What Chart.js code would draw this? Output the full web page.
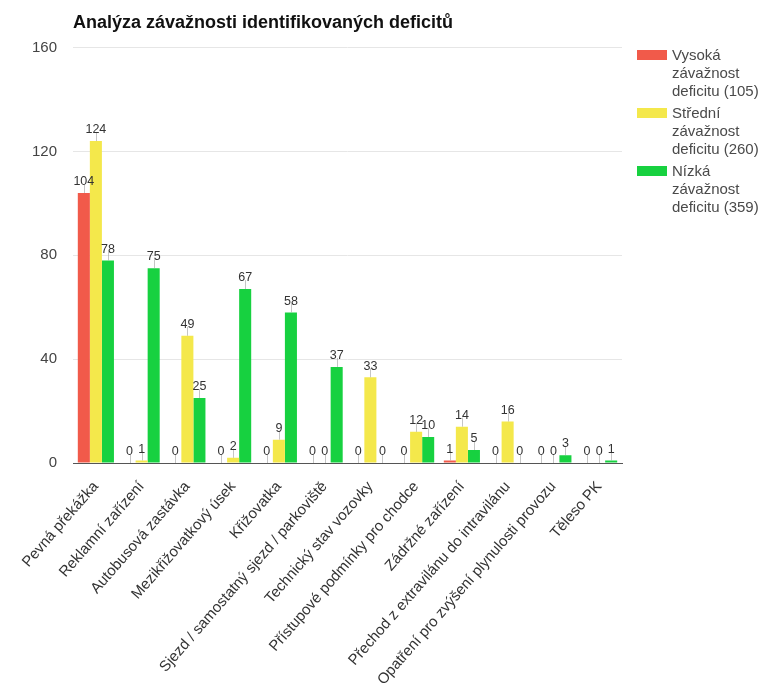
<!DOCTYPE html>
<html lang="cs">
<head>
  <meta charset="UTF-8">
  <script src="https://cdn.jsdelivr.net/npm/chart.js@4.4.0/dist/chart.umd.min.js"></script>
  <style>
    body { margin: 0; background: #fff; font-family: Arial, "Liberation Sans", sans-serif; }
    .wrap { position: relative; width: 762px; height: 684px; }
    #legend { position: absolute; left: 637px; top: 46px; font-size: 15px; color: #4a4a4a; line-height: 18px; }
    .item { display: flex; margin-bottom: 4px; }
    .box { width: 30px; height: 10px; margin: 4px 5px 0 0; flex: none; }
  </style>
</head>
<body>
  <div class="wrap">
    <canvas id="c" width="762" height="684"></canvas>
    <div id="legend"></div>
  </div>
  <script>
    // kategorie deficitů
    const categories = [
      'Pevná překážka',
      'Reklamní zařízení',
      'Autobusová zastávka',
      'Mezikřižovatkový úsek',
      'Křižovatka',
      'Sjezd / samostatný sjezd / parkoviště',
      'Technický stav vozovky',
      'Přístupové podmínky pro chodce',
      'Zádržné zařízení',
      'Přechod z extravilánu do intravilánu',
      'Opatření pro zvýšení plynulosti provozu',
      'Těleso PK'
    ];
    const vysoka  = [104, 0, 0, 0, 0, 0, 0, 0, 1, 0, 0, 0];
    const stredni = [124, 1, 49, 2, 9, 0, 33, 12, 14, 16, 0, 0];
    const nizka   = [78, 75, 25, 67, 58, 37, 0, 10, 5, 0, 3, 1];
    const yTicks  = [0, 40, 80, 120, 160];

    const FONT = 'Arial, "Liberation Sans", sans-serif';
    const sum = a => a.reduce((s, v) => s + v, 0);
    const series = [
      { name: ['Vysoká', 'závažnost', 'deficitu (' + sum(vysoka) + ')'], data: vysoka, color: '#f15a4a' },
      { name: ['Střední', 'závažnost', 'deficitu (' + sum(stredni) + ')'], data: stredni, color: '#f4e84b' },
      { name: ['Nízká', 'závažnost', 'deficitu (' + sum(nizka) + ')'], data: nizka, color: '#17d140' }
    ];

    // popisky hodnot se stopkou nad sloupci
    const barLabels = {
      id: 'barLabels',
      afterDatasetsDraw(chart) {
        const ctx = chart.ctx;
        ctx.save();
        ctx.font = '12.5px ' + FONT;
        ctx.textAlign = 'center';
        ctx.textBaseline = 'bottom';
        chart.data.datasets.forEach((ds, i) => {
          chart.getDatasetMeta(i).data.forEach((bar, j) => {
            const top = Math.min(bar.y, bar.base);
            ctx.strokeStyle = 'rgba(150,150,150,0.55)';
            ctx.lineWidth = 1;
            ctx.beginPath();
            ctx.moveTo(Math.round(bar.x) + 0.5, top);
            ctx.lineTo(Math.round(bar.x) + 0.5, top - 9);
            ctx.stroke();
            ctx.fillStyle = '#333';
            ctx.fillText(ds.data[j], bar.x, top - 5);
          });
        });
        ctx.restore();
      }
    };

    new Chart(document.getElementById('c'), {
      type: 'bar',
      data: {
        labels: categories,
        datasets: series.map(s => ({
          label: s.name.join(' '),
          data: s.data,
          backgroundColor: s.color,
          categoryPercentage: 0.79,
          barPercentage: 1.0
        }))
      },
      options: {
        responsive: false,
        animation: false,
        layout: { padding: { left: 0, right: 140, top: 0, bottom: 0 } },
        plugins: {
          legend: { display: false },
          tooltip: { enabled: false },
          title: {
            display: true,
            text: 'Analýza závažnosti identifikovaných deficitů',
            align: 'start',
            fullSize: false,
            color: '#111',
            font: { family: FONT, size: 18, weight: 'bold' },
            padding: { top: 12, bottom: 14 }
          }
        },
        scales: {
          x: {
            afterFit: axis => { axis.height = 221; },
            grid: { display: false },
            border: { color: '#555', width: 1 },
            ticks: {
              color: '#333',
              maxRotation: 49,
              minRotation: 49,
              autoSkip: false,
              padding: 7,
              font: { family: FONT, size: 15 }
            }
          },
          y: {
            min: 0,
            max: yTicks[yTicks.length - 1],
            afterBuildTicks: axis => { axis.ticks = yTicks.map(v => ({ value: v })); },
            afterFit: axis => { axis.width = 73; },
            grid: { color: '#e6e6e6', drawTicks: false },
            border: { display: false },
            ticks: {
              color: '#444',
              padding: 16,
              font: { family: FONT, size: 15 }
            }
          }
        }
      },
      plugins: [barLabels]
    });

    const legend = document.getElementById('legend');
    series.forEach(s => {
      const item = document.createElement('div');
      item.className = 'item';
      item.innerHTML = '<div class="box" style="background:' + s.color + '"></div><div>' + s.name.join('<br>') + '</div>';
      legend.appendChild(item);
    });
  </script>
</body>
</html>
